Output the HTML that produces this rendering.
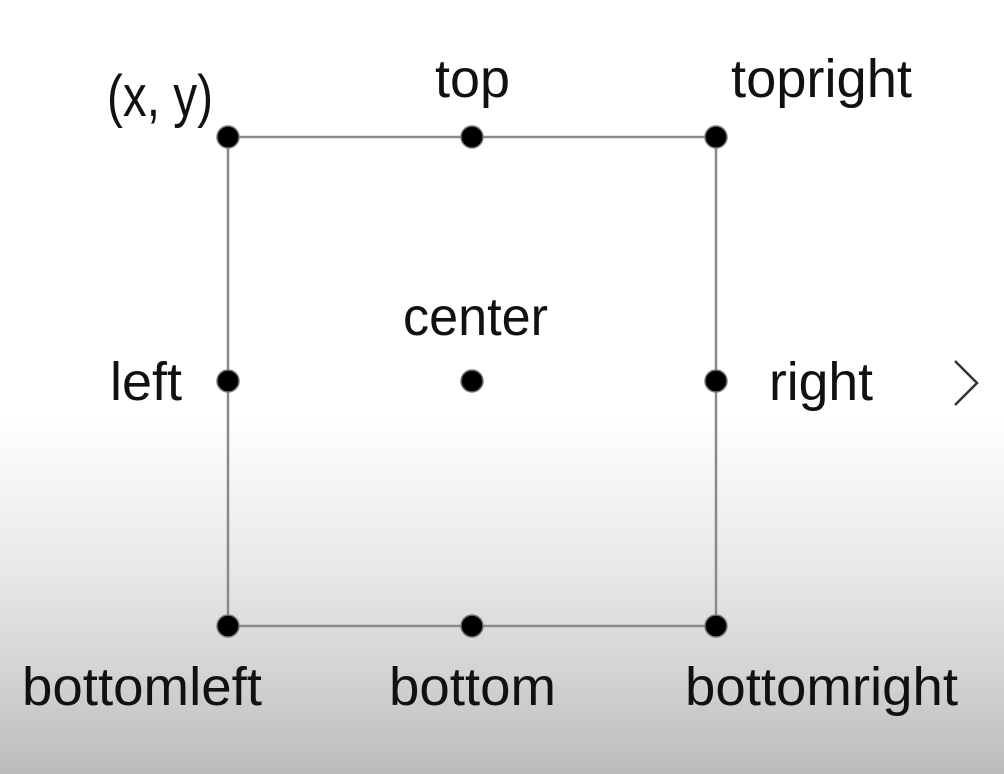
<!DOCTYPE html>
<html><head><meta charset="utf-8"><style>
html,body{margin:0;padding:0;width:1004px;height:774px;overflow:hidden}
body{background:linear-gradient(to bottom,#ffffff 0px,#ffffff 420px,#e6e6e6 580px,#d2d2d2 680px,#bcbcbc 774px)}
svg{position:absolute;left:0;top:0}
text{font-family:"Liberation Sans",sans-serif;font-size:54px;fill:#111}
</style></head><body>
<svg width="1004" height="774" viewBox="0 0 1004 774">
<g stroke="#8a8a8a" stroke-width="2.5" fill="none">
<rect x="228" y="137" width="488" height="489"/>
</g>
<g fill="#000" stroke="#777" stroke-width="1.5">
<circle cx="228" cy="137" r="11"/><circle cx="472" cy="137" r="11"/><circle cx="716" cy="137" r="11"/>
<circle cx="228" cy="381" r="11"/><circle cx="472" cy="381" r="11"/><circle cx="716" cy="381" r="11"/>
<circle cx="228" cy="626" r="11"/><circle cx="472" cy="626" r="11"/><circle cx="716" cy="626" r="11"/>
</g>
<path d="M955 361 L977 383 L955 405" stroke="#333" stroke-width="2.5" fill="none"/>
<text x="107" y="116" style="font-size:58px" textLength="106" lengthAdjust="spacingAndGlyphs">(x, y)</text>
<text x="435" y="97" textLength="75" lengthAdjust="spacingAndGlyphs">top</text>
<text x="731" y="97" textLength="181" lengthAdjust="spacingAndGlyphs">topright</text>
<text x="403" y="335" textLength="145" lengthAdjust="spacingAndGlyphs">center</text>
<text x="110" y="400" textLength="72" lengthAdjust="spacingAndGlyphs">left</text>
<text x="769" y="400" textLength="104" lengthAdjust="spacingAndGlyphs">right</text>
<text x="22" y="705" textLength="240" lengthAdjust="spacingAndGlyphs">bottomleft</text>
<text x="389" y="705" textLength="167" lengthAdjust="spacingAndGlyphs">bottom</text>
<text x="685" y="705" textLength="273" lengthAdjust="spacingAndGlyphs">bottomright</text>
</svg>
</body></html>
